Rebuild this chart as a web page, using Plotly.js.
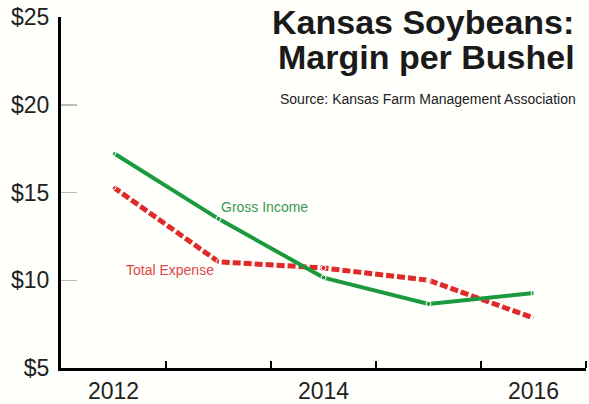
<!DOCTYPE html>
<html>
<head>
<meta charset="utf-8">
<script src="https://cdn.plot.ly/plotly-3.0.1.min.js"></script>
<style>html,body{margin:0;padding:0;background:#fffffc;}#chart{width:589px;height:404px;}</style>
</head>
<body>
<div id="chart"></div>
<script>
var years = [2012, 2013, 2014, 2015, 2016];
var grossIncome = [17.25, 13.5, 10.15, 8.65, 9.27];
var totalExpense = [15.3, 11.05, 10.7, 10.0, 7.85];
var xTickVals = [2012, 2014, 2016];
var xTickText = ["2012", "2014", "2016"];
var xBoundaries = [2012.5, 2013.5, 2014.5, 2015.5, 2016.5];
var yTickVals = [5, 10, 15, 20, 25];
var yTickText = ["$5", "$10", "$15", "$20", "$25"];

var traces = [
  {x: years, y: totalExpense, type: 'scatter', mode: 'lines+markers', name: 'Total Expense',
   line: {color: '#e02a2a', width: 5, dash: '8px,3px'},
   marker: {symbol: 'circle-open', size: 5, color: '#ffffff', line: {color: '#ffffff', width: 1}}},
  {x: years, y: grossIncome, type: 'scatter', mode: 'lines+markers', name: 'Gross Income',
   line: {color: '#1a9a3c', width: 4},
   marker: {symbol: 'circle-open', size: 5, color: '#ffffff', line: {color: '#ffffff', width: 1}}}
];

var layout = {
  width: 589, height: 404,
  margin: {l: 61, r: 3, t: 17, b: 36},
  paper_bgcolor: '#fffffc', plot_bgcolor: '#fffffc',
  showlegend: false,
  font: {family: 'Liberation Sans, Arial, sans-serif', color: '#222'},
  xaxis: {
    range: [2011.5, 2016.5], showgrid: false, zeroline: false,
    showline: true, linecolor: '#000', linewidth: 3,
    tickmode: 'array', tickvals: xTickVals, ticktext: xTickText, ticks: '',
    tickfont: {size: 23, color: '#222'},
    minor: {tickmode: 'array', tickvals: xBoundaries, ticks: 'inside', ticklen: 7, tickwidth: 2, tickcolor: '#000', showgrid: false}
  },
  yaxis: {
    range: [5, 25], showgrid: false, zeroline: false,
    showline: true, linecolor: '#000', linewidth: 3,
    tickmode: 'array', tickvals: yTickVals, ticktext: yTickText,
    ticks: 'inside', ticklen: 16, tickwidth: 1.5, tickcolor: '#bbb',
    tickfont: {size: 23, color: '#222'}, ticklabelstandoff: 4
  },
  annotations: [
    {xref: 'paper', yref: 'paper', x: 0.98, y: 1.045, xanchor: 'right', yanchor: 'top', showarrow: false,
     text: '<b>Kansas Soybeans:</b>', font: {size: 34, color: '#1a1a1a'}},
    {xref: 'paper', yref: 'paper', x: 0.982, y: 0.945, xanchor: 'right', yanchor: 'top', showarrow: false,
     text: '<b>Margin per Bushel</b>', font: {size: 34, color: '#1a1a1a'}},
    {xref: 'paper', yref: 'paper', x: 0.985, y: 0.765, xanchor: 'right', yanchor: 'middle', showarrow: false,
     text: 'Source: Kansas Farm Management Association', font: {size: 14, color: '#222'}},
    {xref: 'x', yref: 'y', x: 2013, y: 14.2, xanchor: 'left', yanchor: 'middle', showarrow: false,
     text: 'Gross Income', font: {size: 14, color: '#3a9a55'}},
    {xref: 'x', yref: 'y', x: 2012.1, y: 10.6, xanchor: 'left', yanchor: 'middle', showarrow: false,
     text: 'Total Expense', font: {size: 14, color: '#e04848'}}
  ]
};

Plotly.newPlot('chart', traces, layout, {displayModeBar: false, staticPlot: true});
</script>
</body>
</html>
